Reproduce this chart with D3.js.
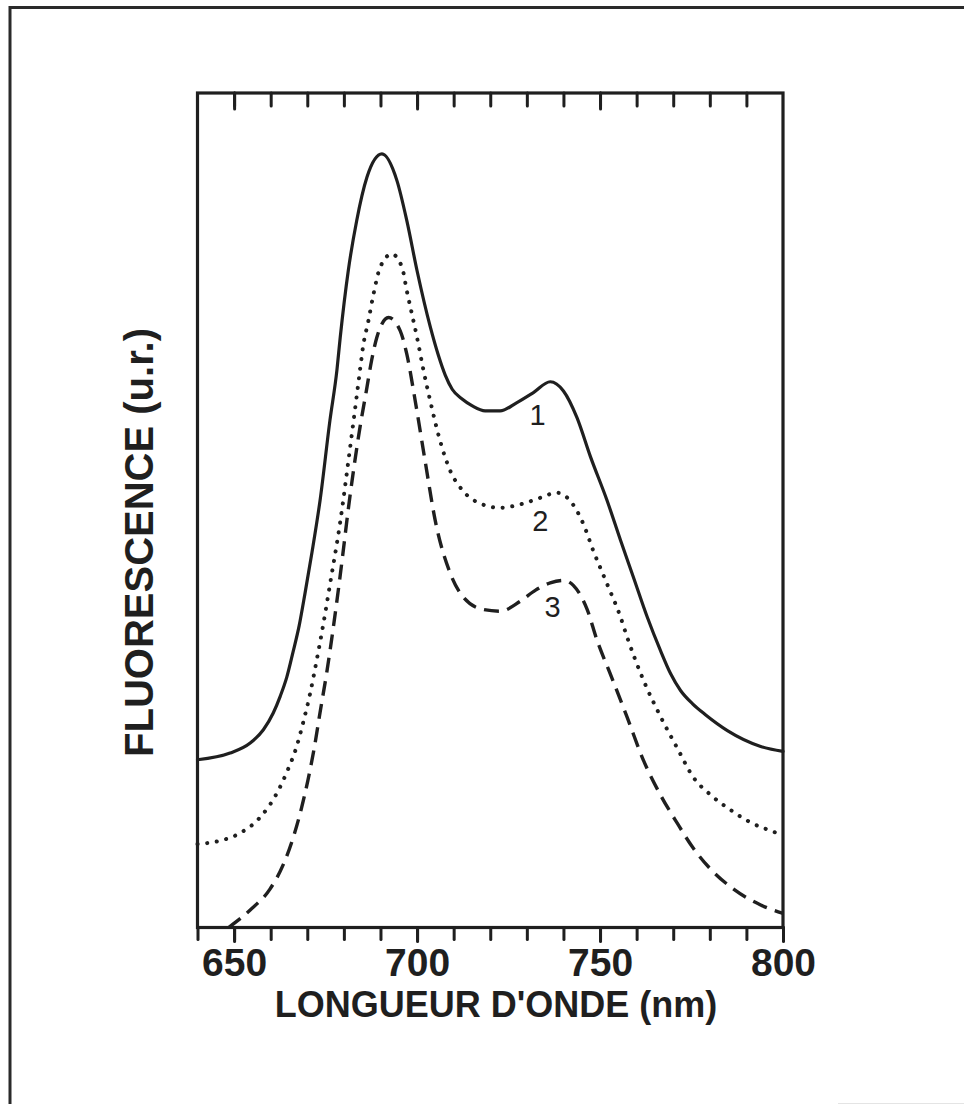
<!DOCTYPE html>
<html>
<head>
<meta charset="utf-8">
<script src="https://cdn.jsdelivr.net/npm/d3@7"></script>
<style>
  html, body { margin: 0; padding: 0; background: #fff; }
  svg { display: block; }
  text { font-family: "Liberation Sans", Arial, Helvetica, sans-serif; fill: #1f1f1f; }
</style>
</head>
<body>
<script>
// Fluorescence emission spectra, curves 1-3 (wavelength in nm, arbitrary units)
const nm1 = [640, 648.9, 654.4, 658.0, 660.7, 662.6, 664.4, 666.1, 667.8, 669.4, 671.3, 673.5, 676.2, 678.1, 679.0, 681.2, 683.5, 686.3, 690.4, 694.5, 697.2, 700.0, 703.6, 705.8, 707.7, 709.6, 712.4, 715.1, 718.6, 722.7, 727.3, 731.8, 736.4, 740.0, 743.7, 747.4, 751.9, 755.6, 759.1, 762.9, 766.5, 769.3, 772.0, 775.3, 778.8, 784.8, 793.9, 800];
const val1 = [20.1, 20.9, 22.1, 23.7, 25.7, 27.7, 30.0, 33.0, 36.2, 40.1, 45.0, 51.2, 60.8, 66.8, 70.7, 78.7, 84.7, 89.9, 92.7, 89.5, 84.7, 78.7, 72.0, 68.6, 66.2, 64.5, 63.3, 62.5, 61.9, 61.9, 62.9, 64.1, 65.4, 64.3, 61.1, 56.4, 51.2, 46.4, 42.0, 37.2, 33.2, 30.4, 28.4, 26.8, 25.5, 23.6, 21.7, 21.1];

const nm2 = [640, 646.2, 651.6, 657.1, 661.7, 664.4, 667.1, 668.9, 670.8, 672.6, 674.4, 676.2, 679.0, 681.7, 684.5, 685.2, 686.7, 688.1, 689.9, 693.1, 695.9, 697.2, 698.6, 700.0, 701.6, 703.6, 706.3, 709.1, 712.6, 717.3, 722.7, 729.0, 733.7, 738.2, 741.9, 745.4, 748.2, 751.9, 755.6, 757.4, 761.9, 766.5, 771.1, 775.5, 780.2, 785.6, 791.1, 798.4, 800];
const val2 = [10.0, 10.4, 11.3, 13.2, 16.1, 18.6, 21.7, 24.6, 28.1, 32.1, 36.4, 41.1, 48.6, 57.5, 67.1, 69.5, 72.7, 75.9, 79.1, 80.7, 79.1, 76.3, 73.5, 70.7, 67.1, 63.1, 58.3, 54.7, 52.3, 50.8, 50.3, 50.8, 51.5, 52.1, 51.1, 48.4, 45.1, 41.2, 37.2, 34.8, 29.6, 25.3, 21.5, 18.0, 15.9, 14.1, 12.6, 11.3, 11.0];

const nm3 = [648.5, 654.4, 659.8, 663.4, 666.1, 668.3, 670.2, 671.9, 673.5, 675.3, 677.1, 679.0, 681.7, 684.5, 686.1, 687.6, 689.0, 692.2, 695.4, 697.2, 699.5, 702.2, 705.0, 709.1, 712.6, 718.1, 722.7, 728.2, 732.3, 736.4, 740.0, 742.7, 746.5, 749.2, 752.8, 757.4, 761.9, 766.5, 771.1, 775.5, 780.2, 786.5, 793.9, 800];
const val3 = [0.0, 2.1, 4.6, 7.5, 10.7, 14.1, 17.7, 21.5, 25.8, 30.5, 35.9, 42.2, 51.8, 60.2, 64.2, 68.0, 70.7, 73.1, 71.5, 68.7, 63.1, 55.9, 48.7, 42.4, 39.6, 38.1, 37.9, 39.1, 40.4, 41.3, 41.6, 41.0, 38.1, 34.4, 30.4, 25.2, 20.0, 15.9, 12.5, 9.5, 7.0, 4.6, 2.7, 1.7];

// Curve numbers and where they sit (nm, u.r.)
const curveNames = ["1", "2", "3"];
const labelNm = [732.9, 733.7, 737.0];
const labelVal = [60.2, 47.5, 37.2];

// Axis ticks
const minorTicks = d3.range(640, 801, 10);
const majorTicks = [650, 700, 750, 800];
const xTitle = "LONGUEUR D'ONDE (nm)";
const yTitle = "FLUORESCENCE (u.r.)";

const W = 964, H = 1104;
const plot = { left: 197.5, right: 783, top: 93, bottom: 927.5 };
const ink = "#1f1f1f";

const svg = d3.select("body").append("svg")
  .attr("width", W).attr("height", H)
  .attr("viewBox", `0 0 ${W} ${H}`);

svg.append("rect").attr("width", W).attr("height", H).attr("fill", "#fff");

// outer page border
svg.append("path")
  .attr("d", `M10,${H} L10,7.5 L${W},7.5`)
  .attr("fill", "none").attr("stroke", "#2a2a2a").attr("stroke-width", 3);
svg.append("line")
  .attr("x1", 838).attr("x2", W).attr("y1", H - 0.5).attr("y2", H - 0.5)
  .attr("stroke", "#e4e4e4").attr("stroke-width", 1);

const x = d3.scaleLinear().domain([640, 800]).range([plot.left, plot.right]);
const y = d3.scaleLinear().domain([0, 100]).range([plot.bottom, plot.top]);

// plot frame
svg.append("rect")
  .attr("x", plot.left).attr("y", plot.top)
  .attr("width", plot.right - plot.left).attr("height", plot.bottom - plot.top)
  .attr("fill", "none").attr("stroke", ink).attr("stroke-width", 3.2);

function styleAxis(g) {
  g.select(".domain").remove();
  g.selectAll(".tick line")
    .attr("stroke", ink).attr("stroke-width", 3).attr("stroke-linecap", "round");
}

// top ticks point inward
svg.append("g").attr("transform", `translate(0,${plot.top})`)
  .call(d3.axisTop(x).tickValues(minorTicks.filter(v => v > 640 && v < 800)).tickSize(-13).tickFormat(""))
  .call(styleAxis);
svg.append("g").attr("transform", `translate(0,${plot.top})`)
  .call(d3.axisTop(x).tickValues(majorTicks.filter(v => v < 800)).tickSize(-16).tickFormat(""))
  .call(styleAxis);

// bottom ticks point outward
svg.append("g").attr("transform", `translate(0,${plot.bottom})`)
  .call(d3.axisBottom(x).tickValues(minorTicks).tickSize(12).tickFormat(""))
  .call(styleAxis);
const xMajor = svg.append("g").attr("transform", `translate(0,${plot.bottom})`)
  .call(d3.axisBottom(x).tickValues(majorTicks).tickSize(14).tickPadding(7).tickFormat(d3.format("d")))
  .call(styleAxis);
xMajor.selectAll(".tick text")
  .attr("font-size", 39).attr("font-weight", "bold").attr("fill", ink)
  .style("font-family", "'Liberation Sans', Arial, sans-serif");

// axis titles
svg.append("text")
  .attr("x", 496).attr("y", 1017)
  .attr("text-anchor", "middle")
  .attr("font-size", 36).attr("font-weight", "bold")
  .text(xTitle);
svg.append("text")
  .attr("transform", `translate(153,542.5) rotate(-90)`)
  .attr("text-anchor", "middle")
  .attr("font-size", 40).attr("font-weight", "bold")
  .text(yTitle);

// spectra
const line = d3.line()
  .x(d => x(d[0])).y(d => y(d[1]))
  .curve(d3.curveMonotoneX);

const series = [
  { pts: d3.zip(nm1, val1), width: 3.2, dash: null, cap: "round" },
  { pts: d3.zip(nm2, val2), width: 4, dash: "0.1 9.6", cap: "round" },
  { pts: d3.zip(nm3, val3), width: 3.4, dash: "15 8.5", cap: "butt" }
];

svg.append("g").selectAll("path")
  .data(series).join("path")
  .attr("d", d => line(d.pts))
  .attr("fill", "none")
  .attr("stroke", ink)
  .attr("stroke-width", d => d.width)
  .attr("stroke-linecap", d => d.cap)
  .attr("stroke-linejoin", "round")
  .attr("stroke-dasharray", d => d.dash);

// curve numbers
svg.append("g").selectAll("text")
  .data(curveNames).join("text")
  .attr("x", (d, i) => x(labelNm[i]))
  .attr("y", (d, i) => y(labelVal[i]))
  .attr("text-anchor", "middle")
  .attr("font-size", 29)
  .text(d => d);
</script>
</body>
</html>
